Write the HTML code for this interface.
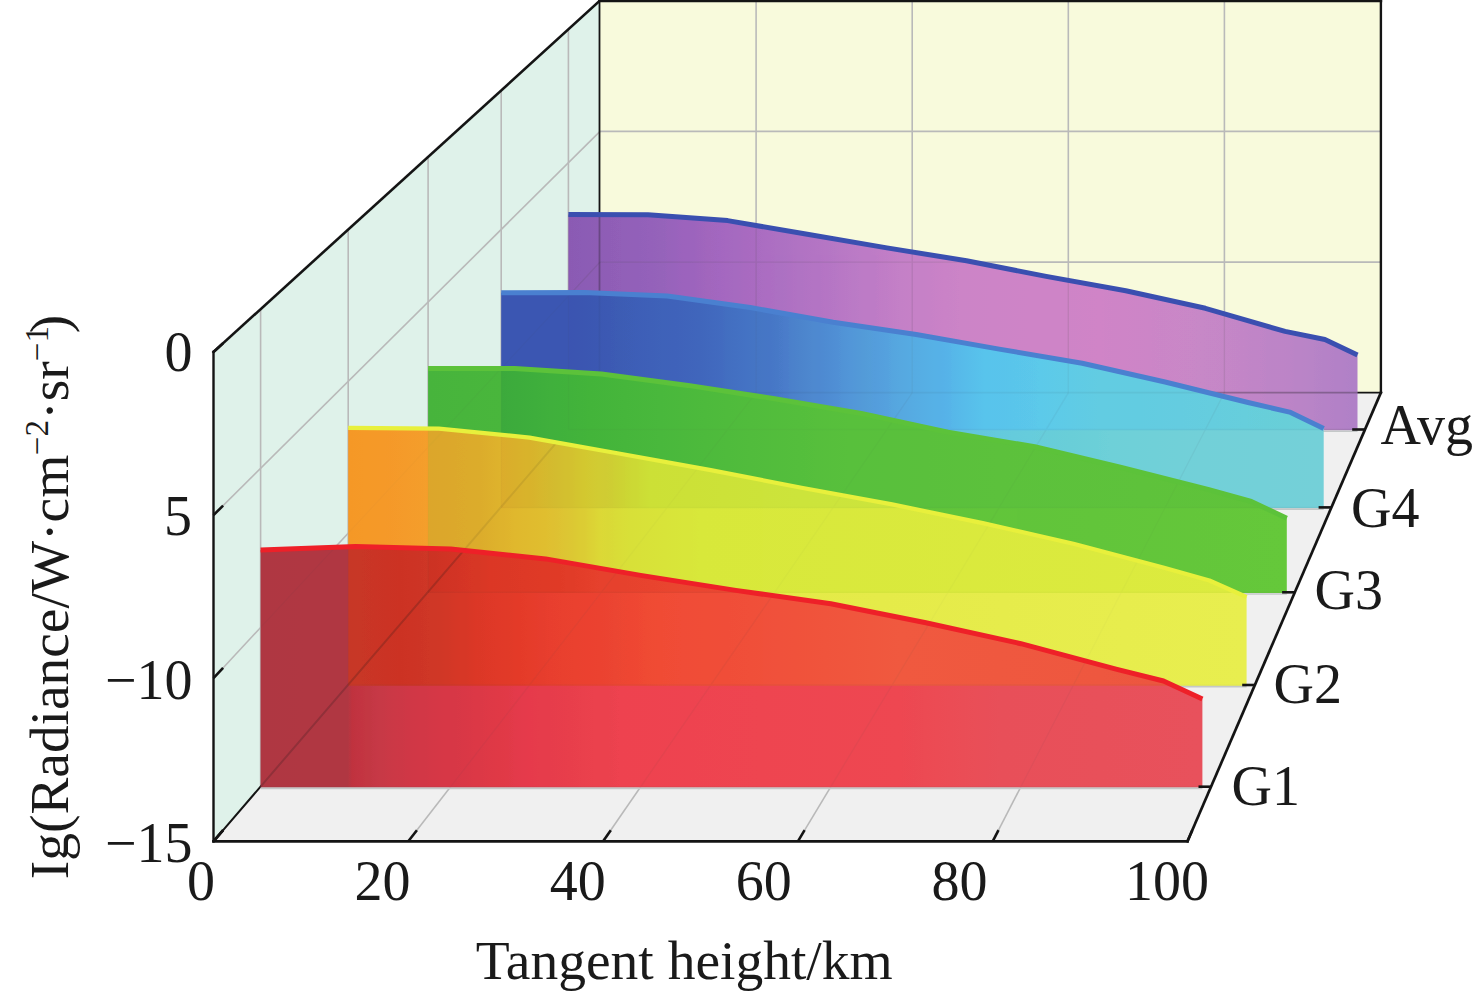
<!DOCTYPE html>
<html><head><meta charset="utf-8"><title>chart</title>
<style>html,body{margin:0;padding:0;background:#fff;overflow:hidden;}svg{display:block;}</style>
</head><body>
<svg width="1476" height="997" viewBox="0 0 1476 997">
<defs><clipPath id="c_Avg"><polygon points="568.4,214.6 648.0,214.8 727.7,220.6 807.3,234.3 886.9,247.9 966.5,260.7 1046.2,276.4 1125.8,290.7 1205.4,308.3 1285.1,331.4 1324.9,339.5 1357.5,354.9 1357.5,430.3 568.4,430.3"/></clipPath><linearGradient id="b_Avg" gradientUnits="userSpaceOnUse" x1="568.4" y1="0" x2="1357.5" y2="0"><stop offset="0.0000" stop-color="#8c5cb4"/><stop offset="0.1034" stop-color="#9462ba"/><stop offset="0.1921" stop-color="#a468c0"/><stop offset="0.3188" stop-color="#b476c4"/><stop offset="0.4202" stop-color="#c480c8"/><stop offset="0.4962" stop-color="#cc84c8"/><stop offset="0.6737" stop-color="#d086c8"/><stop offset="0.8004" stop-color="#c888c8"/><stop offset="0.9144" stop-color="#bc86c8"/><stop offset="0.9993" stop-color="#b080c8"/></linearGradient><clipPath id="c_G4"><polygon points="501.2,292.7 584.2,292.6 667.2,296.0 750.2,307.5 833.2,322.2 916.2,334.5 999.2,349.1 1082.2,363.2 1165.1,382.0 1248.1,402.5 1289.6,412.1 1323.7,428.6 1323.7,508.2 501.2,508.2"/></clipPath><linearGradient id="b_G4" gradientUnits="userSpaceOnUse" x1="501.2" y1="0" x2="1323.7" y2="0"><stop offset="0.0000" stop-color="#3c58b4"/><stop offset="0.0897" stop-color="#3c58b4"/><stop offset="0.4849" stop-color="#60c4dc"/><stop offset="0.6429" stop-color="#68ccdc"/><stop offset="0.7402" stop-color="#6ed0d8"/><stop offset="0.8496" stop-color="#72d0d8"/><stop offset="0.9992" stop-color="#74d0d8"/></linearGradient><linearGradient id="o1_G4" gradientUnits="userSpaceOnUse" x1="501.2" y1="0" x2="1323.7" y2="0"><stop offset="0.0000" stop-color="#3c58b4"/><stop offset="0.0812" stop-color="#3c56b2"/><stop offset="0.1809" stop-color="#4060b8"/><stop offset="0.2417" stop-color="#4268bc"/><stop offset="0.3268" stop-color="#4878c8"/><stop offset="0.3633" stop-color="#4c84cc"/><stop offset="0.4241" stop-color="#5496d8"/><stop offset="0.4849" stop-color="#58a8e0"/><stop offset="0.5396" stop-color="#58b4e8"/><stop offset="0.5882" stop-color="#5ac4ec"/><stop offset="0.6551" stop-color="#5ccaea"/><stop offset="0.7281" stop-color="#62cce2"/><stop offset="0.8253" stop-color="#66cce0"/><stop offset="0.9044" stop-color="#68cedc"/><stop offset="0.9992" stop-color="#6ccfd8"/></linearGradient><clipPath id="c_G3"><polygon points="428.1,368.5 514.7,368.4 601.4,374.0 688.0,385.4 774.7,398.8 861.3,413.5 948.0,432.2 1034.7,446.8 1121.3,467.5 1208.0,489.4 1251.3,501.5 1286.8,518.2 1286.8,593.1 428.1,593.1"/></clipPath><linearGradient id="b_G3" gradientUnits="userSpaceOnUse" x1="428.1" y1="0" x2="1286.8" y2="0"><stop offset="0.0000" stop-color="#48b43c"/><stop offset="0.0849" stop-color="#4ab63c"/><stop offset="0.5496" stop-color="#60c43a"/><stop offset="1.0000" stop-color="#66c83a"/></linearGradient><linearGradient id="o1_G3" gradientUnits="userSpaceOnUse" x1="428.1" y1="0" x2="1286.8" y2="0"><stop offset="0.0849" stop-color="#3caa3c"/><stop offset="0.1245" stop-color="#3eae3c"/><stop offset="0.1420" stop-color="#40b03c"/><stop offset="0.1886" stop-color="#44b43a"/><stop offset="0.2701" stop-color="#4ab83c"/><stop offset="0.3749" stop-color="#52bc3c"/><stop offset="0.4913" stop-color="#58c03c"/><stop offset="0.6660" stop-color="#5cc23c"/><stop offset="1.0000" stop-color="#60c43a"/></linearGradient><clipPath id="c_G2"><polygon points="348.2,427.9 438.8,428.6 529.5,437.6 620.2,453.7 710.8,470.1 801.5,487.7 892.1,504.4 982.8,523.1 1073.4,543.7 1164.1,567.8 1209.4,580.5 1246.6,597.0 1246.6,685.8 348.2,685.8"/></clipPath><linearGradient id="b_G2" gradientUnits="userSpaceOnUse" x1="348.2" y1="0" x2="1246.6" y2="0"><stop offset="0.0000" stop-color="#f59828"/><stop offset="0.0387" stop-color="#f59a2a"/><stop offset="0.0888" stop-color="#f4a02c"/><stop offset="0.2803" stop-color="#e0e040"/><stop offset="0.4584" stop-color="#e4ea48"/><stop offset="0.9994" stop-color="#e8ee50"/></linearGradient><linearGradient id="o1_G2" gradientUnits="userSpaceOnUse" x1="348.2" y1="0" x2="1246.6" y2="0"><stop offset="0.0888" stop-color="#dca82c"/><stop offset="0.1467" stop-color="#dcac2c"/><stop offset="0.1857" stop-color="#e0b82e"/><stop offset="0.2191" stop-color="#e0be30"/><stop offset="0.2502" stop-color="#dcc834"/><stop offset="0.2803" stop-color="#dcd838"/><stop offset="0.3137" stop-color="#d8e03a"/><stop offset="0.3916" stop-color="#d8e83c"/><stop offset="0.9994" stop-color="#dceb40"/></linearGradient><linearGradient id="o2_G2" gradientUnits="userSpaceOnUse" x1="348.2" y1="0" x2="1246.6" y2="0"><stop offset="0.1701" stop-color="#dcac2c"/><stop offset="0.2024" stop-color="#d8b42c"/><stop offset="0.2313" stop-color="#d4bc30"/><stop offset="0.2636" stop-color="#d4c830"/><stop offset="0.2936" stop-color="#d0d034"/><stop offset="0.3359" stop-color="#cce038"/><stop offset="0.5029" stop-color="#cce43c"/><stop offset="0.9994" stop-color="#d0e640"/></linearGradient><clipPath id="c_G1"><polygon points="260.6,550.1 355.6,546.5 450.7,549.0 545.7,558.9 640.7,575.4 735.8,590.4 830.8,603.8 925.9,622.7 1020.9,643.7 1116.0,669.2 1163.5,681.0 1202.4,699.1 1202.4,787.5 260.6,787.5"/></clipPath><linearGradient id="b_G1" gradientUnits="userSpaceOnUse" x1="260.6" y1="0" x2="1202.4" y2="0"><stop offset="0.0000" stop-color="#b03844"/><stop offset="0.0928" stop-color="#b23844"/><stop offset="0.0971" stop-color="#c03440"/><stop offset="0.1268" stop-color="#c83a48"/><stop offset="0.1587" stop-color="#d03848"/><stop offset="0.2011" stop-color="#d83848"/><stop offset="0.2542" stop-color="#e03a48"/><stop offset="0.2861" stop-color="#e63c4c"/><stop offset="0.3285" stop-color="#e8404c"/><stop offset="0.3816" stop-color="#ee4450"/><stop offset="0.6789" stop-color="#ee4852"/><stop offset="0.7851" stop-color="#e8505a"/><stop offset="0.9985" stop-color="#e8525c"/></linearGradient><linearGradient id="o1_G1" gradientUnits="userSpaceOnUse" x1="260.6" y1="0" x2="1202.4" y2="0"><stop offset="0.0928" stop-color="#c83828"/><stop offset="0.1480" stop-color="#cc3424"/><stop offset="0.1905" stop-color="#d03828"/><stop offset="0.2277" stop-color="#dc3828"/><stop offset="0.2754" stop-color="#e43c2a"/><stop offset="0.3073" stop-color="#e84030"/><stop offset="0.3604" stop-color="#ec4432"/><stop offset="0.4241" stop-color="#f04c36"/><stop offset="0.5196" stop-color="#f0503a"/><stop offset="0.6789" stop-color="#f05a40"/><stop offset="0.8912" stop-color="#ee5840"/><stop offset="0.9985" stop-color="#ec5640"/></linearGradient><linearGradient id="o2_G1" gradientUnits="userSpaceOnUse" x1="260.6" y1="0" x2="1202.4" y2="0"><stop offset="0.1778" stop-color="#cc3424"/><stop offset="0.2117" stop-color="#d43626"/><stop offset="0.2436" stop-color="#dc3826"/><stop offset="0.3179" stop-color="#e03c28"/><stop offset="0.3604" stop-color="#e6422e"/><stop offset="0.4665" stop-color="#ea4832"/><stop offset="0.6789" stop-color="#ec5038"/><stop offset="0.9985" stop-color="#ec5038"/></linearGradient></defs>
<rect width="1476" height="997" fill="#ffffff"/>
<polygon points="599.5,1.0 1380.9,1.0 1380.9,392.6 599.5,392.6" fill="#f8fadc"/>
<polygon points="213.5,352.0 599.5,1.0 599.5,392.6 213.5,841.3" fill="#dff2ea"/>
<polygon points="213.5,841.3 1187.5,841.3 1380.9,392.6 599.5,392.6" fill="#f0f0f0"/>
<g stroke="#b9b9b9" stroke-width="1.6"><line x1="756.1" y1="0.7" x2="756.1" y2="392.8"/><line x1="912.2" y1="0.7" x2="912.2" y2="392.8"/><line x1="1068.3" y1="0.7" x2="1068.3" y2="392.8"/><line x1="1224.4" y1="0.7" x2="1224.4" y2="392.8"/><line x1="600.0" y1="131.4" x2="1380.5" y2="131.4"/><line x1="600.0" y1="262.1" x2="1380.5" y2="262.1"/><line x1="260.6" y1="309.2" x2="260.6" y2="786.7"/><line x1="348.2" y1="229.6" x2="348.2" y2="685.0"/><line x1="428.1" y1="157.0" x2="428.1" y2="592.3"/><line x1="501.2" y1="90.5" x2="501.2" y2="507.4"/><line x1="568.4" y1="29.4" x2="568.4" y2="429.5"/><line x1="213.5" y1="515.1" x2="600.0" y2="131.4"/><line x1="213.5" y1="678.2" x2="600.0" y2="262.1"/><line x1="408.3" y1="841.3" x2="756.1" y2="392.8"/><line x1="603.1" y1="841.3" x2="912.2" y2="392.8"/><line x1="797.9" y1="841.3" x2="1068.3" y2="392.8"/><line x1="992.7" y1="841.3" x2="1224.4" y2="392.8"/><line x1="260.6" y1="786.7" x2="1211.0" y2="786.7"/><line x1="348.2" y1="685.0" x2="1254.7" y2="685.0"/><line x1="428.1" y1="592.3" x2="1294.6" y2="592.3"/><line x1="501.2" y1="507.4" x2="1331.1" y2="507.4"/><line x1="568.4" y1="429.5" x2="1364.7" y2="429.5"/></g>
<line x1="599.5" y1="1.0" x2="599.5" y2="392.6" stroke="#141414" stroke-width="1.8" stroke-linecap="square"/>
<line x1="599.5" y1="392.6" x2="1380.9" y2="392.6" stroke="#141414" stroke-width="1.8" stroke-linecap="square"/>
<line x1="213.5" y1="841.3" x2="599.5" y2="392.6" stroke="#141414" stroke-width="2.0" stroke-linecap="square"/>
<line x1="599.5" y1="1.0" x2="1380.9" y2="1.0" stroke="#141414" stroke-width="2.6" stroke-linecap="square"/>
<line x1="1380.9" y1="1.0" x2="1380.9" y2="392.6" stroke="#141414" stroke-width="2.4" stroke-linecap="square"/>
<line x1="213.5" y1="352.0" x2="599.5" y2="1.0" stroke="#141414" stroke-width="2.6" stroke-linecap="square"/>
<line x1="213.5" y1="352.0" x2="213.5" y2="841.3" stroke="#141414" stroke-width="2.4" stroke-linecap="square"/>
<line x1="213.5" y1="841.3" x2="1187.5" y2="841.3" stroke="#141414" stroke-width="2.7" stroke-linecap="square"/>
<line x1="1187.5" y1="841.3" x2="1380.9" y2="392.6" stroke="#141414" stroke-width="2.7" stroke-linecap="square"/>
<polygon points="568.4,214.6 648.0,214.8 727.7,220.6 807.3,234.3 886.9,247.9 966.5,260.7 1046.2,276.4 1125.8,290.7 1205.4,308.3 1285.1,331.4 1324.9,339.5 1357.5,354.9 1357.5,430.3 568.4,430.3" fill="url(#b_Avg)"/>
<g clip-path="url(#c_Avg)"><g stroke="#404040" stroke-width="1.4" opacity="0.12"><line x1="756.1" y1="0.7" x2="756.1" y2="392.8"/><line x1="912.2" y1="0.7" x2="912.2" y2="392.8"/><line x1="1068.3" y1="0.7" x2="1068.3" y2="392.8"/><line x1="1224.4" y1="0.7" x2="1224.4" y2="392.8"/><line x1="600.0" y1="131.4" x2="1380.5" y2="131.4"/><line x1="600.0" y1="262.1" x2="1380.5" y2="262.1"/><line x1="260.6" y1="309.2" x2="260.6" y2="786.7"/><line x1="348.2" y1="229.6" x2="348.2" y2="685.0"/><line x1="428.1" y1="157.0" x2="428.1" y2="592.3"/><line x1="501.2" y1="90.5" x2="501.2" y2="507.4"/><line x1="568.4" y1="29.4" x2="568.4" y2="429.5"/><line x1="213.5" y1="515.1" x2="600.0" y2="131.4"/><line x1="213.5" y1="678.2" x2="600.0" y2="262.1"/><line x1="408.3" y1="841.3" x2="756.1" y2="392.8"/><line x1="603.1" y1="841.3" x2="912.2" y2="392.8"/><line x1="797.9" y1="841.3" x2="1068.3" y2="392.8"/><line x1="992.7" y1="841.3" x2="1224.4" y2="392.8"/><line x1="260.6" y1="786.7" x2="1211.0" y2="786.7"/><line x1="348.2" y1="685.0" x2="1254.7" y2="685.0"/><line x1="428.1" y1="592.3" x2="1294.6" y2="592.3"/><line x1="501.2" y1="507.4" x2="1331.1" y2="507.4"/><line x1="568.4" y1="429.5" x2="1364.7" y2="429.5"/></g><g opacity="0.3"><line x1="599.5" y1="1.0" x2="599.5" y2="392.6" stroke="#141414" stroke-width="1.8" stroke-linecap="square"/><line x1="599.5" y1="392.6" x2="1380.9" y2="392.6" stroke="#141414" stroke-width="1.8" stroke-linecap="square"/><line x1="213.5" y1="841.3" x2="599.5" y2="392.6" stroke="#141414" stroke-width="2.0" stroke-linecap="square"/></g></g>
<line x1="568.4" y1="431.2" x2="1357.5" y2="431.2" stroke="#c4c8c8" stroke-width="1.6"/>
<polyline points="568.4,214.6 648.0,214.8 727.7,220.6 807.3,234.3 886.9,247.9 966.5,260.7 1046.2,276.4 1125.8,290.7 1205.4,308.3 1285.1,331.4 1324.9,339.5 1357.5,354.9" fill="none" stroke="#3a4fb0" stroke-width="5" stroke-linejoin="round"/>
<polygon points="501.2,292.7 584.2,292.6 667.2,296.0 750.2,307.5 833.2,322.2 916.2,334.5 999.2,349.1 1082.2,363.2 1165.1,382.0 1248.1,402.5 1289.6,412.1 1323.7,428.6 1323.7,508.2 501.2,508.2" fill="url(#b_G4)"/>
<g clip-path="url(#c_Avg)"><polygon points="501.2,292.7 584.2,292.6 667.2,296.0 750.2,307.5 833.2,322.2 916.2,334.5 999.2,349.1 1082.2,363.2 1165.1,382.0 1248.1,402.5 1289.6,412.1 1323.7,428.6 1323.7,508.2 501.2,508.2" fill="url(#o1_G4)"/></g>
<g clip-path="url(#c_G4)"><g stroke="#404040" stroke-width="1.4" opacity="0.05"><line x1="756.1" y1="0.7" x2="756.1" y2="392.8"/><line x1="912.2" y1="0.7" x2="912.2" y2="392.8"/><line x1="1068.3" y1="0.7" x2="1068.3" y2="392.8"/><line x1="1224.4" y1="0.7" x2="1224.4" y2="392.8"/><line x1="600.0" y1="131.4" x2="1380.5" y2="131.4"/><line x1="600.0" y1="262.1" x2="1380.5" y2="262.1"/><line x1="260.6" y1="309.2" x2="260.6" y2="786.7"/><line x1="348.2" y1="229.6" x2="348.2" y2="685.0"/><line x1="428.1" y1="157.0" x2="428.1" y2="592.3"/><line x1="501.2" y1="90.5" x2="501.2" y2="507.4"/><line x1="568.4" y1="29.4" x2="568.4" y2="429.5"/><line x1="213.5" y1="515.1" x2="600.0" y2="131.4"/><line x1="213.5" y1="678.2" x2="600.0" y2="262.1"/><line x1="408.3" y1="841.3" x2="756.1" y2="392.8"/><line x1="603.1" y1="841.3" x2="912.2" y2="392.8"/><line x1="797.9" y1="841.3" x2="1068.3" y2="392.8"/><line x1="992.7" y1="841.3" x2="1224.4" y2="392.8"/><line x1="260.6" y1="786.7" x2="1211.0" y2="786.7"/><line x1="348.2" y1="685.0" x2="1254.7" y2="685.0"/><line x1="428.1" y1="592.3" x2="1294.6" y2="592.3"/><line x1="501.2" y1="507.4" x2="1331.1" y2="507.4"/><line x1="568.4" y1="429.5" x2="1364.7" y2="429.5"/></g><g opacity="0.05"><line x1="599.5" y1="1.0" x2="599.5" y2="392.6" stroke="#141414" stroke-width="1.8" stroke-linecap="square"/><line x1="599.5" y1="392.6" x2="1380.9" y2="392.6" stroke="#141414" stroke-width="1.8" stroke-linecap="square"/><line x1="213.5" y1="841.3" x2="599.5" y2="392.6" stroke="#141414" stroke-width="2.0" stroke-linecap="square"/></g></g>
<line x1="501.2" y1="509.1" x2="1323.7" y2="509.1" stroke="#c4c8c8" stroke-width="1.6"/>
<polyline points="501.2,292.7 584.2,292.6 667.2,296.0 750.2,307.5 833.2,322.2 916.2,334.5 999.2,349.1 1082.2,363.2 1165.1,382.0 1248.1,402.5 1289.6,412.1 1323.7,428.6" fill="none" stroke="#4a80d0" stroke-width="5" stroke-linejoin="round"/>
<polygon points="428.1,368.5 514.7,368.4 601.4,374.0 688.0,385.4 774.7,398.8 861.3,413.5 948.0,432.2 1034.7,446.8 1121.3,467.5 1208.0,489.4 1251.3,501.5 1286.8,518.2 1286.8,593.1 428.1,593.1" fill="url(#b_G3)"/>
<g clip-path="url(#c_G4)"><polygon points="428.1,368.5 514.7,368.4 601.4,374.0 688.0,385.4 774.7,398.8 861.3,413.5 948.0,432.2 1034.7,446.8 1121.3,467.5 1208.0,489.4 1251.3,501.5 1286.8,518.2 1286.8,593.1 428.1,593.1" fill="url(#o1_G3)"/></g>
<g clip-path="url(#c_G3)"><g stroke="#404040" stroke-width="1.4" opacity="0.03"><line x1="756.1" y1="0.7" x2="756.1" y2="392.8"/><line x1="912.2" y1="0.7" x2="912.2" y2="392.8"/><line x1="1068.3" y1="0.7" x2="1068.3" y2="392.8"/><line x1="1224.4" y1="0.7" x2="1224.4" y2="392.8"/><line x1="600.0" y1="131.4" x2="1380.5" y2="131.4"/><line x1="600.0" y1="262.1" x2="1380.5" y2="262.1"/><line x1="260.6" y1="309.2" x2="260.6" y2="786.7"/><line x1="348.2" y1="229.6" x2="348.2" y2="685.0"/><line x1="428.1" y1="157.0" x2="428.1" y2="592.3"/><line x1="501.2" y1="90.5" x2="501.2" y2="507.4"/><line x1="568.4" y1="29.4" x2="568.4" y2="429.5"/><line x1="213.5" y1="515.1" x2="600.0" y2="131.4"/><line x1="213.5" y1="678.2" x2="600.0" y2="262.1"/><line x1="408.3" y1="841.3" x2="756.1" y2="392.8"/><line x1="603.1" y1="841.3" x2="912.2" y2="392.8"/><line x1="797.9" y1="841.3" x2="1068.3" y2="392.8"/><line x1="992.7" y1="841.3" x2="1224.4" y2="392.8"/><line x1="260.6" y1="786.7" x2="1211.0" y2="786.7"/><line x1="348.2" y1="685.0" x2="1254.7" y2="685.0"/><line x1="428.1" y1="592.3" x2="1294.6" y2="592.3"/><line x1="501.2" y1="507.4" x2="1331.1" y2="507.4"/><line x1="568.4" y1="429.5" x2="1364.7" y2="429.5"/></g><g opacity="0.0"><line x1="599.5" y1="1.0" x2="599.5" y2="392.6" stroke="#141414" stroke-width="1.8" stroke-linecap="square"/><line x1="599.5" y1="392.6" x2="1380.9" y2="392.6" stroke="#141414" stroke-width="1.8" stroke-linecap="square"/><line x1="213.5" y1="841.3" x2="599.5" y2="392.6" stroke="#141414" stroke-width="2.0" stroke-linecap="square"/></g></g>
<line x1="428.1" y1="594.0" x2="1286.8" y2="594.0" stroke="#c4c8c8" stroke-width="1.6"/>
<polyline points="428.1,368.5 514.7,368.4 601.4,374.0 688.0,385.4 774.7,398.8 861.3,413.5 948.0,432.2 1034.7,446.8 1121.3,467.5 1208.0,489.4 1251.3,501.5 1286.8,518.2" fill="none" stroke="#5cc23a" stroke-width="5" stroke-linejoin="round"/>
<polygon points="348.2,427.9 438.8,428.6 529.5,437.6 620.2,453.7 710.8,470.1 801.5,487.7 892.1,504.4 982.8,523.1 1073.4,543.7 1164.1,567.8 1209.4,580.5 1246.6,597.0 1246.6,685.8 348.2,685.8" fill="url(#b_G2)"/>
<g clip-path="url(#c_G3)"><polygon points="348.2,427.9 438.8,428.6 529.5,437.6 620.2,453.7 710.8,470.1 801.5,487.7 892.1,504.4 982.8,523.1 1073.4,543.7 1164.1,567.8 1209.4,580.5 1246.6,597.0 1246.6,685.8 348.2,685.8" fill="url(#o1_G2)"/></g>
<g clip-path="url(#c_G3)"><g clip-path="url(#c_G4)"><polygon points="348.2,427.9 438.8,428.6 529.5,437.6 620.2,453.7 710.8,470.1 801.5,487.7 892.1,504.4 982.8,523.1 1073.4,543.7 1164.1,567.8 1209.4,580.5 1246.6,597.0 1246.6,685.8 348.2,685.8" fill="url(#o2_G2)"/></g></g>
<g clip-path="url(#c_G2)"><g stroke="#404040" stroke-width="1.4" opacity="0.02"><line x1="756.1" y1="0.7" x2="756.1" y2="392.8"/><line x1="912.2" y1="0.7" x2="912.2" y2="392.8"/><line x1="1068.3" y1="0.7" x2="1068.3" y2="392.8"/><line x1="1224.4" y1="0.7" x2="1224.4" y2="392.8"/><line x1="600.0" y1="131.4" x2="1380.5" y2="131.4"/><line x1="600.0" y1="262.1" x2="1380.5" y2="262.1"/><line x1="260.6" y1="309.2" x2="260.6" y2="786.7"/><line x1="348.2" y1="229.6" x2="348.2" y2="685.0"/><line x1="428.1" y1="157.0" x2="428.1" y2="592.3"/><line x1="501.2" y1="90.5" x2="501.2" y2="507.4"/><line x1="568.4" y1="29.4" x2="568.4" y2="429.5"/><line x1="213.5" y1="515.1" x2="600.0" y2="131.4"/><line x1="213.5" y1="678.2" x2="600.0" y2="262.1"/><line x1="408.3" y1="841.3" x2="756.1" y2="392.8"/><line x1="603.1" y1="841.3" x2="912.2" y2="392.8"/><line x1="797.9" y1="841.3" x2="1068.3" y2="392.8"/><line x1="992.7" y1="841.3" x2="1224.4" y2="392.8"/><line x1="260.6" y1="786.7" x2="1211.0" y2="786.7"/><line x1="348.2" y1="685.0" x2="1254.7" y2="685.0"/><line x1="428.1" y1="592.3" x2="1294.6" y2="592.3"/><line x1="501.2" y1="507.4" x2="1331.1" y2="507.4"/><line x1="568.4" y1="429.5" x2="1364.7" y2="429.5"/></g><g opacity="0.08"><line x1="599.5" y1="1.0" x2="599.5" y2="392.6" stroke="#141414" stroke-width="1.8" stroke-linecap="square"/><line x1="599.5" y1="392.6" x2="1380.9" y2="392.6" stroke="#141414" stroke-width="1.8" stroke-linecap="square"/><line x1="213.5" y1="841.3" x2="599.5" y2="392.6" stroke="#141414" stroke-width="2.0" stroke-linecap="square"/></g></g>
<line x1="348.2" y1="686.7" x2="1246.6" y2="686.7" stroke="#c4c8c8" stroke-width="1.6"/>
<polyline points="348.2,427.9 438.8,428.6 529.5,437.6 620.2,453.7 710.8,470.1 801.5,487.7 892.1,504.4 982.8,523.1 1073.4,543.7 1164.1,567.8 1209.4,580.5 1246.6,597.0" fill="none" stroke="#e8f03c" stroke-width="4.2" stroke-linejoin="round"/>
<polygon points="260.6,550.1 355.6,546.5 450.7,549.0 545.7,558.9 640.7,575.4 735.8,590.4 830.8,603.8 925.9,622.7 1020.9,643.7 1116.0,669.2 1163.5,681.0 1202.4,699.1 1202.4,787.5 260.6,787.5" fill="url(#b_G1)"/>
<g clip-path="url(#c_G2)"><polygon points="260.6,550.1 355.6,546.5 450.7,549.0 545.7,558.9 640.7,575.4 735.8,590.4 830.8,603.8 925.9,622.7 1020.9,643.7 1116.0,669.2 1163.5,681.0 1202.4,699.1 1202.4,787.5 260.6,787.5" fill="url(#o1_G1)"/></g>
<g clip-path="url(#c_G2)"><g clip-path="url(#c_G3)"><polygon points="260.6,550.1 355.6,546.5 450.7,549.0 545.7,558.9 640.7,575.4 735.8,590.4 830.8,603.8 925.9,622.7 1020.9,643.7 1116.0,669.2 1163.5,681.0 1202.4,699.1 1202.4,787.5 260.6,787.5" fill="url(#o2_G1)"/></g></g>
<g clip-path="url(#c_G1)"><g stroke="#404040" stroke-width="1.4" opacity="0.05"><line x1="756.1" y1="0.7" x2="756.1" y2="392.8"/><line x1="912.2" y1="0.7" x2="912.2" y2="392.8"/><line x1="1068.3" y1="0.7" x2="1068.3" y2="392.8"/><line x1="1224.4" y1="0.7" x2="1224.4" y2="392.8"/><line x1="600.0" y1="131.4" x2="1380.5" y2="131.4"/><line x1="600.0" y1="262.1" x2="1380.5" y2="262.1"/><line x1="260.6" y1="309.2" x2="260.6" y2="786.7"/><line x1="348.2" y1="229.6" x2="348.2" y2="685.0"/><line x1="428.1" y1="157.0" x2="428.1" y2="592.3"/><line x1="501.2" y1="90.5" x2="501.2" y2="507.4"/><line x1="568.4" y1="29.4" x2="568.4" y2="429.5"/><line x1="213.5" y1="515.1" x2="600.0" y2="131.4"/><line x1="213.5" y1="678.2" x2="600.0" y2="262.1"/><line x1="408.3" y1="841.3" x2="756.1" y2="392.8"/><line x1="603.1" y1="841.3" x2="912.2" y2="392.8"/><line x1="797.9" y1="841.3" x2="1068.3" y2="392.8"/><line x1="992.7" y1="841.3" x2="1224.4" y2="392.8"/><line x1="260.6" y1="786.7" x2="1211.0" y2="786.7"/><line x1="348.2" y1="685.0" x2="1254.7" y2="685.0"/><line x1="428.1" y1="592.3" x2="1294.6" y2="592.3"/><line x1="501.2" y1="507.4" x2="1331.1" y2="507.4"/><line x1="568.4" y1="429.5" x2="1364.7" y2="429.5"/></g><g opacity="0.2"><line x1="599.5" y1="1.0" x2="599.5" y2="392.6" stroke="#141414" stroke-width="1.8" stroke-linecap="square"/><line x1="599.5" y1="392.6" x2="1380.9" y2="392.6" stroke="#141414" stroke-width="1.8" stroke-linecap="square"/><line x1="213.5" y1="841.3" x2="599.5" y2="392.6" stroke="#141414" stroke-width="2.0" stroke-linecap="square"/></g></g>
<line x1="260.6" y1="788.4" x2="1202.4" y2="788.4" stroke="#c4c8c8" stroke-width="1.6"/>
<polyline points="260.6,550.1 355.6,546.5 450.7,549.0 545.7,558.9 640.7,575.4 735.8,590.4 830.8,603.8 925.9,622.7 1020.9,643.7 1116.0,669.2 1163.5,681.0 1202.4,699.1" fill="none" stroke="#ee2028" stroke-width="5" stroke-linejoin="round"/>
<line x1="213.5" y1="841.3" x2="223.1" y2="830.2" stroke="#141414" stroke-width="2.6" stroke-linecap="butt"/>
<line x1="408.3" y1="841.3" x2="416.9" y2="830.2" stroke="#141414" stroke-width="2.6" stroke-linecap="butt"/>
<line x1="603.1" y1="841.3" x2="610.8" y2="830.2" stroke="#141414" stroke-width="2.6" stroke-linecap="butt"/>
<line x1="797.9" y1="841.3" x2="804.6" y2="830.2" stroke="#141414" stroke-width="2.6" stroke-linecap="butt"/>
<line x1="992.7" y1="841.3" x2="998.5" y2="830.2" stroke="#141414" stroke-width="2.6" stroke-linecap="butt"/>
<line x1="1187.5" y1="841.3" x2="1192.3" y2="830.2" stroke="#141414" stroke-width="2.6" stroke-linecap="butt"/>
<line x1="213.5" y1="352.0" x2="223.1" y2="343.3" stroke="#141414" stroke-width="2.6" stroke-linecap="butt"/>
<line x1="213.5" y1="515.1" x2="223.1" y2="505.6" stroke="#141414" stroke-width="2.6" stroke-linecap="butt"/>
<line x1="213.5" y1="678.2" x2="223.1" y2="667.9" stroke="#141414" stroke-width="2.6" stroke-linecap="butt"/>
<line x1="213.5" y1="841.3" x2="223.1" y2="830.2" stroke="#141414" stroke-width="2.6" stroke-linecap="butt"/>
<line x1="1198.5" y1="786.7" x2="1211.0" y2="786.7" stroke="#141414" stroke-width="2.6" stroke-linecap="butt"/>
<line x1="1242.2" y1="685.0" x2="1254.7" y2="685.0" stroke="#141414" stroke-width="2.6" stroke-linecap="butt"/>
<line x1="1282.1" y1="592.3" x2="1294.6" y2="592.3" stroke="#141414" stroke-width="2.6" stroke-linecap="butt"/>
<line x1="1318.6" y1="507.4" x2="1331.1" y2="507.4" stroke="#141414" stroke-width="2.6" stroke-linecap="butt"/>
<line x1="1352.2" y1="429.5" x2="1364.7" y2="429.5" stroke="#141414" stroke-width="2.6" stroke-linecap="butt"/>
<text x="192.6" y="370.7" font-family="'Liberation Serif','Times New Roman',serif" font-size="56" fill="#1a1a1a" text-anchor="end" >0</text>
<text x="192.0" y="535.0" font-family="'Liberation Serif','Times New Roman',serif" font-size="56" fill="#1a1a1a" text-anchor="end" >5</text>
<text x="192.6" y="699.2" font-family="'Liberation Serif','Times New Roman',serif" font-size="56" fill="#1a1a1a" text-anchor="end" >−10</text>
<text x="192.6" y="862.2" font-family="'Liberation Serif','Times New Roman',serif" font-size="56" fill="#1a1a1a" text-anchor="end" >−15</text>
<text x="214.89999999999998" y="899.5" font-family="'Liberation Serif','Times New Roman',serif" font-size="56" fill="#1a1a1a" text-anchor="end" >0</text>
<text x="410.59999999999997" y="899.5" font-family="'Liberation Serif','Times New Roman',serif" font-size="56" fill="#1a1a1a" text-anchor="end" >20</text>
<text x="605.7" y="899.5" font-family="'Liberation Serif','Times New Roman',serif" font-size="56" fill="#1a1a1a" text-anchor="end" >40</text>
<text x="791.8000000000001" y="899.5" font-family="'Liberation Serif','Times New Roman',serif" font-size="56" fill="#1a1a1a" text-anchor="end" >60</text>
<text x="987.4000000000001" y="899.5" font-family="'Liberation Serif','Times New Roman',serif" font-size="56" fill="#1a1a1a" text-anchor="end" >80</text>
<text x="1208.9" y="899.5" font-family="'Liberation Serif','Times New Roman',serif" font-size="56" fill="#1a1a1a" text-anchor="end" >100</text>
<text x="1380.6" y="443.6" font-family="'Liberation Serif','Times New Roman',serif" font-size="56" fill="#1a1a1a" text-anchor="start" >Avg</text>
<text x="1351.0" y="527.0" font-family="'Liberation Serif','Times New Roman',serif" font-size="56" fill="#1a1a1a" text-anchor="start" >G4</text>
<text x="1314.5" y="609.0" font-family="'Liberation Serif','Times New Roman',serif" font-size="56" fill="#1a1a1a" text-anchor="start" >G3</text>
<text x="1273.5" y="703.0" font-family="'Liberation Serif','Times New Roman',serif" font-size="56" fill="#1a1a1a" text-anchor="start" >G2</text>
<text x="1231.5" y="805.0" font-family="'Liberation Serif','Times New Roman',serif" font-size="56" fill="#1a1a1a" text-anchor="start" >G1</text>
<text x="475.8" y="979.0" font-family="'Liberation Serif','Times New Roman',serif" font-size="55.5" fill="#1a1a1a" text-anchor="start" >Tangent height/km</text>
<text transform="translate(67.8,879.2) rotate(-90)" font-family="'Liberation Serif','Times New Roman',serif" font-size="55.4" fill="#1a1a1a"><tspan x="0">Ig(Radiance/W·cm</tspan><tspan x="424.0" dy="-20" font-size="33">−2</tspan><tspan x="459.5" dy="20">·sr</tspan><tspan x="518.0" dy="-20" font-size="33">−1</tspan><tspan x="546.0" dy="20">)</tspan></text>
</svg>
</body></html>
